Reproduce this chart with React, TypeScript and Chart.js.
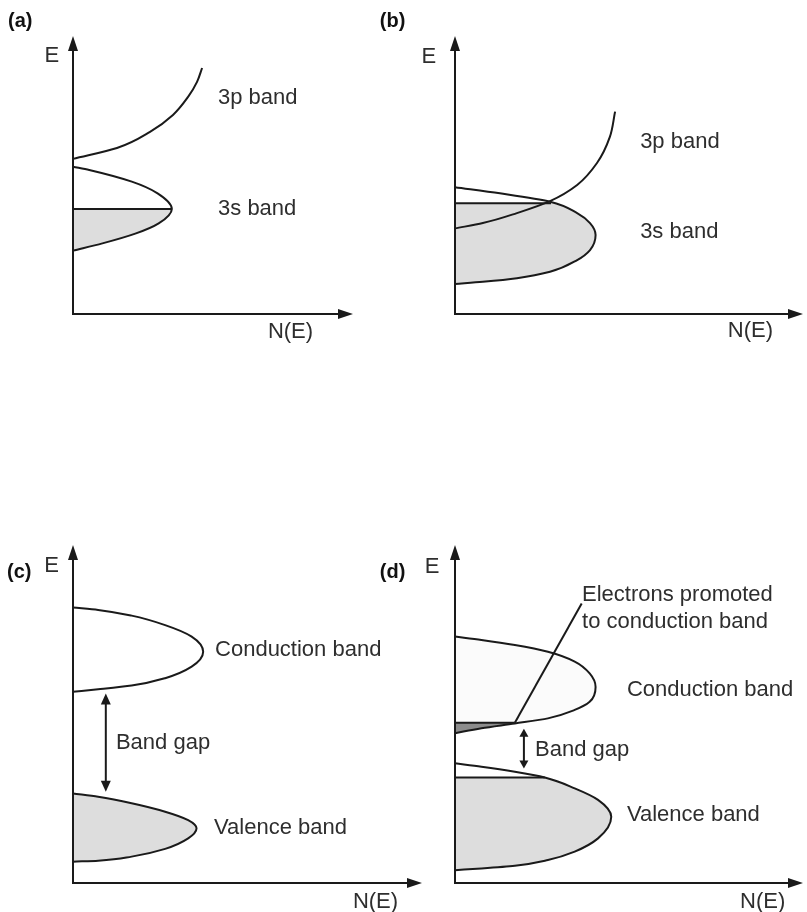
import React, { useEffect, useRef } from "react";
import { Chart, registerables } from "chart.js";

Chart.register(...registerables);

// ---------- data (N(E) along x, E along y, arbitrary units 0..100) ----------
// Panel (a)
const a3pN = [0, 15.7, 27.5, 35.7, 41.1, 44.3, 46.1];
const a3pE = [55.8, 59.7, 65.5, 71.6, 78.1, 83.5, 88.5];
const a3sN = [0, 5.8, 21.0, 30.2, 35.3, 30.6, 22.5, 10.5, 0];
const a3sE = [53.0, 51.8, 47.6, 43.4, 37.8, 32.6, 29.0, 25.4, 22.8];
const aFermiN = [0, 35.3];
const aFermiE = [37.8, 37.8];

// Panel (b)
const b3pN = [0, 8.0, 17.8, 27.3, 35.1, 40.8, 44.5, 46.0];
const b3pE = [30.8, 32.7, 36.3, 40.6, 46.4, 54.3, 63.7, 72.8];
const b3sN = [0, 12.9, 27.3, 35.1, 38.8, 40.4, 38.8, 35.1, 27.3, 17.8, 8.0, 0];
const b3sE = [45.6, 43.4, 40.4, 36.3, 32.7, 28.4, 23.0, 19.4, 15.2, 12.9, 11.6, 10.8];
const bFermiN = [0, 27.6];
const bFermiE = [39.8, 39.8];

// Panel (c)
const cCondN = [0, 7.2, 16.8, 26.4, 34.0, 37.3, 34.0, 26.4, 16.8, 7.2, 0];
const cCondE = [81.5, 80.8, 79.1, 76.3, 72.9, 68.4, 64.0, 60.6, 58.4, 57.3, 56.6];
const cValN = [0, 7.2, 16.8, 26.4, 33.0, 35.4, 33.0, 26.4, 16.8, 7.2, 0];
const cValE = [26.5, 25.5, 23.6, 21.1, 18.6, 16.2, 13.2, 10.1, 7.8, 6.6, 6.3];
const cGapN = 9.4;
const cGapE = [56.1, 27.0];

// Panel (d)
const dCondN = [0, 7.6, 17.2, 26.7, 34.4, 38.7, 40.4, 38.7, 34.4, 26.7, 17.2, 7.6, 0];
const dCondE = [72.9, 71.9, 70.4, 68.4, 65.5, 62.0, 58.0, 53.6, 51.2, 48.7, 47.2, 45.8, 44.3];
const dElecN = [0, 17.2];
const dElecE = [47.4, 47.4];
const dLeaderN = [17.2, 36.4];
const dLeaderE = [47.4, 82.7];
const dValN = [0, 7.6, 17.2, 25.8, 34.4, 41.1, 44.9, 41.1, 34.4, 26.7, 17.2, 7.6, 0];
const dValE = [35.4, 34.4, 32.9, 31.2, 28.0, 24.6, 19.6, 13.2, 9.3, 6.8, 5.1, 4.3, 3.8];
const dFermiN = [0, 25.8];
const dFermiE = [31.2, 31.2];
const dGapN = 19.8;
const dGapE = [45.6, 33.9];

// ---------- styles ----------
const INK = "#1a1a1a";
const TEXT = "#2e2e2e";
const FILL = "#dddddd";
const FILL_LIGHT = "#fbfbfb";
const FILL_DARK = "#8c8c8c";
const FONT = '"Liberation Sans", Arial, Helvetica, sans-serif';

type Pt = { x: number; y: number };
const zip = (n: number[], e: number[]): Pt[] => n.map((v, i) => ({ x: v, y: e[i] }));

type BandFill = { color: string; below?: number };
type LineSpec = { pts: Pt[]; curve: boolean; fills?: BandFill[] };
type ArrowSpec = { n: number; e: number[]; head: number; half: number };
type LabelSpec = { text: string; x: number; y: number; align: CanvasTextAlign; bold?: boolean; size?: number };

interface Panel {
  left: number;
  top: number;
  width: number;
  height: number;
  padding: { left: number; top: number; right: number; bottom: number };
  lines: LineSpec[];
  arrows: ArrowSpec[];
  labels: LabelSpec[];
}

const panels: Panel[] = [
  {
    left: 0, top: 0, width: 370, height: 345,
    padding: { left: 73, top: 36, right: 17, bottom: 31 },
    lines: [
      { pts: zip(a3sN, a3sE), curve: true, fills: [{ color: FILL, below: aFermiE[0] }] },
      { pts: zip(aFermiN, aFermiE), curve: false },
      { pts: zip(a3pN, a3pE), curve: true },
    ],
    arrows: [],
    labels: [
      { text: "(a)", x: -23.2, y: 105.4, align: "left", bold: true },
      { text: "E", x: -7.6, y: 92.8, align: "center" },
      { text: "3p band", x: 51.8, y: 77.7, align: "left" },
      { text: "3s band", x: 51.8, y: 37.8, align: "left" },
      { text: "N(E)", x: 69.6, y: -6.3, align: "left" },
    ],
  },
  {
    left: 370, top: 0, width: 437, height: 345,
    padding: { left: 85, top: 36, right: 4, bottom: 31 },
    lines: [
      { pts: zip(b3sN, b3sE), curve: true, fills: [{ color: FILL, below: bFermiE[0] }] },
      { pts: zip(bFermiN, bFermiE), curve: false },
      { pts: zip(b3pN, b3pE), curve: true },
    ],
    arrows: [],
    labels: [
      { text: "(b)", x: -21.6, y: 105.4, align: "left", bold: true },
      { text: "E", x: -7.5, y: 92.3, align: "center" },
      { text: "3p band", x: 53.2, y: 61.9, align: "left" },
      { text: "3s band", x: 53.2, y: 29.5, align: "left" },
      { text: "N(E)", x: 78.4, y: -6.1, align: "left" },
    ],
  },
  {
    left: 0, top: 455, width: 430, height: 457,
    padding: { left: 73, top: 90, right: 8, bottom: 29 },
    lines: [
      { pts: zip(cCondN, cCondE), curve: true },
      { pts: zip(cValN, cValE), curve: true, fills: [{ color: FILL }] },
    ],
    arrows: [{ n: cGapN, e: cGapE, head: 11, half: 5 }],
    labels: [
      { text: "(c)", x: -18.9, y: 92.0, align: "left", bold: true },
      { text: "E", x: -6.1, y: 93.9, align: "center" },
      { text: "Conduction band", x: 40.7, y: 68.9, align: "left" },
      { text: "Band gap", x: 12.3, y: 41.4, align: "left" },
      { text: "Valence band", x: 40.4, y: 16.3, align: "left" },
      { text: "N(E)", x: 80.2, y: -5.6, align: "left" },
    ],
  },
  {
    left: 370, top: 455, width: 437, height: 457,
    padding: { left: 85, top: 90, right: 4, bottom: 29 },
    lines: [
      { pts: zip(dCondN, dCondE), curve: true, fills: [{ color: FILL_LIGHT }, { color: FILL_DARK, below: dElecE[0] }] },
      { pts: zip(dElecN, dElecE), curve: false },
      { pts: zip(dValN, dValE), curve: true, fills: [{ color: FILL, below: dFermiE[0] }] },
      { pts: zip(dFermiN, dFermiE), curve: false },
      { pts: zip(dLeaderN, dLeaderE), curve: false },
    ],
    arrows: [{ n: dGapN, e: dGapE, head: 8, half: 4.5 }],
    labels: [
      { text: "(d)", x: -21.6, y: 92.0, align: "left", bold: true },
      { text: "E", x: -6.6, y: 93.6, align: "center" },
      { text: "Electrons promoted", x: 36.5, y: 85.2, align: "left" },
      { text: "to conduction band", x: 36.5, y: 77.2, align: "left" },
      { text: "Conduction band", x: 49.4, y: 57.1, align: "left" },
      { text: "Band gap", x: 23.0, y: 39.3, align: "left" },
      { text: "Valence band", x: 49.4, y: 20.1, align: "left" },
      { text: "N(E)", x: 81.9, y: -5.6, align: "left" },
    ],
  },
];

// ---------- plugins ----------
const bandFillPlugin = {
  id: "bandFill",
  beforeDatasetsDraw(chart: any) {
    const { ctx, scales } = chart;
    chart.data.datasets.forEach((ds: any, i: number) => {
      const fills: BandFill[] | undefined = ds.bandFills;
      if (!fills) return;
      const line = chart.getDatasetMeta(i).dataset;
      if (!line) return;
      line.updateControlPoints(chart.chartArea, "y");
      fills.forEach((f) => {
        ctx.save();
        if (f.below !== undefined) {
          const yp = scales.y.getPixelForValue(f.below);
          ctx.beginPath();
          ctx.rect(0, yp, chart.width, chart.height - yp);
          ctx.clip();
        }
        ctx.beginPath();
        line.path(ctx);
        ctx.closePath();
        ctx.fillStyle = f.color;
        ctx.fill();
        ctx.restore();
      });
    });
  },
};

function tri(ctx: CanvasRenderingContext2D, pts: number[][]) {
  ctx.beginPath();
  ctx.moveTo(pts[0][0], pts[0][1]);
  ctx.lineTo(pts[1][0], pts[1][1]);
  ctx.lineTo(pts[2][0], pts[2][1]);
  ctx.closePath();
  ctx.fill();
}

const axesPlugin = {
  id: "arrowAxes",
  afterDatasetsDraw(chart: any) {
    const { ctx, scales } = chart;
    const x0 = Math.round(scales.x.getPixelForValue(0));
    const x1 = scales.x.getPixelForValue(scales.x.max);
    const y0 = Math.round(scales.y.getPixelForValue(0));
    const y1 = scales.y.getPixelForValue(scales.y.max);
    const L = 15;
    const H = 5;
    ctx.save();
    ctx.strokeStyle = INK;
    ctx.fillStyle = INK;
    ctx.lineWidth = 2;
    ctx.beginPath();
    ctx.moveTo(x0, y1 + L - 2);
    ctx.lineTo(x0, y0);
    ctx.lineTo(x1 - L + 2, y0);
    ctx.stroke();
    tri(ctx, [[x0, y1], [x0 - H, y1 + L], [x0 + H, y1 + L]]);
    tri(ctx, [[x1, y0], [x1 - L, y0 - H], [x1 - L, y0 + H]]);
    ctx.restore();
  },
};

function gapArrowPlugin(arrows: ArrowSpec[]) {
  return {
    id: "gapArrows",
    afterDatasetsDraw(chart: any) {
      const { ctx, scales } = chart;
      ctx.save();
      ctx.strokeStyle = INK;
      ctx.fillStyle = INK;
      ctx.lineWidth = 2;
      arrows.forEach((a) => {
        const x = scales.x.getPixelForValue(a.n);
        const yt = scales.y.getPixelForValue(a.e[0]);
        const yb = scales.y.getPixelForValue(a.e[1]);
        ctx.beginPath();
        ctx.moveTo(x, yt + a.head - 1);
        ctx.lineTo(x, yb - a.head + 1);
        ctx.stroke();
        tri(ctx, [[x, yt], [x - a.half, yt + a.head], [x + a.half, yt + a.head]]);
        tri(ctx, [[x, yb], [x - a.half, yb - a.head], [x + a.half, yb - a.head]]);
      });
      ctx.restore();
    },
  };
}

function labelPlugin(labels: LabelSpec[]) {
  return {
    id: "panelLabels",
    afterDraw(chart: any) {
      const { ctx, scales } = chart;
      ctx.save();
      ctx.textBaseline = "middle";
      labels.forEach((l) => {
        const size = l.size ?? (l.bold ? 20 : 22);
        ctx.font = `${l.bold ? "bold " : ""}${size}px ${FONT}`;
        ctx.fillStyle = l.bold ? "#111" : TEXT;
        ctx.textAlign = l.align;
        ctx.fillText(l.text, scales.x.getPixelForValue(l.x), scales.y.getPixelForValue(l.y));
      });
      ctx.restore();
    },
  };
}

function PanelChart({ p }: { p: Panel }) {
  const ref = useRef<HTMLCanvasElement>(null);
  useEffect(() => {
    const canvas = ref.current;
    if (!canvas) return;
    const chart = new Chart(canvas, {
      type: "line",
      data: {
        datasets: p.lines.map((l) => ({
          data: l.pts,
          borderColor: INK,
          borderWidth: 2,
          pointRadius: 0,
          tension: 0,
          cubicInterpolationMode: l.curve ? "monotone" : "default",
          fill: false,
          clip: false,
          bandFills: l.fills,
        })) as any,
      },
      options: {
        indexAxis: "y",
        animation: false,
        responsive: false,
        devicePixelRatio: 1,
        events: [],
        layout: { padding: p.padding },
        scales: {
          x: { type: "linear", min: 0, max: 100, display: false },
          y: { type: "linear", min: 0, max: 100, display: false },
        },
        plugins: {
          legend: { display: false },
          tooltip: { enabled: false },
        },
      },
      plugins: [bandFillPlugin, axesPlugin, gapArrowPlugin(p.arrows), labelPlugin(p.labels)],
    } as any);
    return () => chart.destroy();
  }, [p]);
  return (
    <canvas
      ref={ref}
      width={p.width}
      height={p.height}
      style={{ position: "absolute", left: p.left, top: p.top, width: p.width, height: p.height }}
    />
  );
}

export default function App() {
  return (
    <div style={{ position: "absolute", left: 0, top: 0, width: 807, height: 912, background: "#fff", overflow: "hidden" }}>
      {panels.map((p, i) => (
        <PanelChart key={i} p={p} />
      ))}
    </div>
  );
}
